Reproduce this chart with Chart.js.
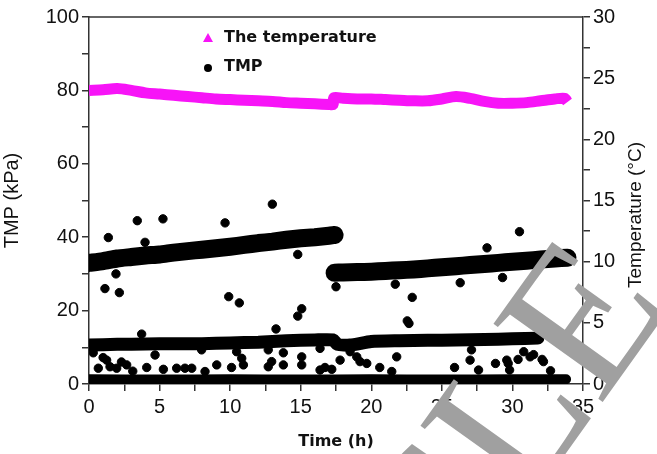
<!DOCTYPE html>
<html lang="en">
<head>
<meta charset="UTF-8">
<title>TMP and temperature</title>
<script src="https://cdn.jsdelivr.net/npm/chart.js"></script>
<style>
    body { margin: 0; background: #fff; }
    #wrap { width: 657px; height: 454px; }
</style>
<script>
    // temperature, right axis (deg C)
    const tempTime = [0, 1, 2, 3, 4, 5, 6, 7, 8, 9, 10, 11, 12, 13, 14, 15, 16, 17, 17.3, 17.35, 18, 19, 20, 21, 22, 23, 24, 25, 26, 27, 28, 29, 30, 31, 32, 33, 33.7, 33.9];
    const tempValue = [24.0, 24.05, 24.15, 24.0, 23.8, 23.7, 23.6, 23.5, 23.4, 23.3, 23.25, 23.2, 23.15, 23.1, 23.0, 22.95, 22.9, 22.85, 22.85, 23.4, 23.35, 23.3, 23.3, 23.25, 23.2, 23.15, 23.15, 23.3, 23.5, 23.35, 23.1, 22.95, 22.95, 23.0, 23.15, 23.3, 23.35, 23.05];

    // dense TMP bands (kPa)
    const upperTimeA = [0, 1, 2, 3, 4, 5, 6, 7, 8, 9, 10, 11, 12, 13, 14, 15, 16, 17, 17.4];
    const upperTmpA = [33.0, 33.5, 34.2, 34.6, 35.0, 35.3, 35.8, 36.2, 36.6, 37.0, 37.4, 37.9, 38.4, 38.8, 39.3, 39.7, 40.0, 40.4, 40.6];
    const upperTimeB = [17.4, 18, 19, 20, 21, 22, 23, 24, 25, 26, 27, 28, 29, 30, 31, 32, 33, 33.9];
    const upperTmpB = [30.3, 30.4, 30.5, 30.6, 30.8, 31.0, 31.2, 31.5, 31.8, 32.1, 32.4, 32.7, 33.0, 33.3, 33.6, 33.9, 34.2, 34.4];
    const midTime = [0, 2, 4, 6, 8, 10, 12, 14, 16, 17.3, 17.6, 18.5, 20, 22, 24, 26, 28, 30, 31.8];
    const midTmp = [10.6, 10.8, 10.9, 11.0, 11.0, 11.2, 11.4, 11.8, 12.0, 12.0, 10.8, 10.6, 11.6, 11.8, 11.9, 12.0, 12.1, 12.3, 12.5];
    const lowTime = [0, 5, 10, 15, 20, 25, 30, 33.8];
    const lowTmp = [1.3, 1.2, 1.3, 1.2, 1.3, 1.2, 1.3, 1.3];

    // scattered TMP points
    const outTime = [1.37, 3.42, 3.97, 5.24, 9.64, 12.99, 14.79, 30.5, 28.2, 1.91, 1.13, 2.15, 9.9, 10.65, 15.07, 14.79, 13.25, 3.73, 29.3, 26.3, 21.7, 22.9, 22.55, 22.67, 17.5];
    const outTmp = [39.9, 44.5, 38.6, 45.0, 43.9, 49.0, 35.3, 41.5, 37.1, 30.0, 26.0, 24.9, 23.8, 22.1, 20.5, 18.5, 15.0, 13.6, 29.0, 27.6, 27.2, 23.6, 17.2, 16.5, 26.5];
    const lowScatterTime = [0.66, 1.25, 1.49, 1.96, 2.67, 4.09, 5.27, 6.21, 6.8, 7.28, 4.68, 8.22, 9.05, 10.1, 10.46, 10.82, 10.94, 7.98, 12.7, 13.77, 12.94, 12.7, 13.77, 15.07, 15.07, 16.37, 16.37, 16.72, 17.2, 17.79, 18.5, 18.97, 19.2, 19.68, 20.6, 21.8, 21.45, 27.1, 27.0, 25.9, 28.8, 29.6, 29.7, 30.4, 30.8, 32.1, 27.6, 29.8, 32.7, 31.25, 32.2, 31.5, 0.3, 1.0, 2.3, 3.1];
    const lowScatterTmp = [4.3, 6.5, 4.7, 4.3, 5.2, 4.5, 4.0, 4.3, 4.3, 4.3, 7.9, 3.4, 5.2, 4.5, 8.8, 7.0, 5.2, 9.3, 9.3, 8.5, 6.1, 4.7, 5.2, 7.4, 5.2, 9.7, 3.8, 4.5, 4.0, 6.5, 8.8, 7.4, 6.1, 5.6, 4.5, 7.4, 3.4, 9.3, 6.5, 4.5, 5.6, 6.5, 5.6, 6.7, 8.8, 6.7, 3.8, 3.8, 3.6, 7.4, 6.1, 8.0, 8.5, 7.2, 6.0, 3.5];

    const legendNames = ['The temperature', 'TMP'];
    const xTitle = 'Time (h)';
    const yTitle = 'TMP (kPa)';
    const y2Title = 'Temperature (\u00B0C)';
    const watermark = 'ARTICLE';

    const MAGENTA = '#f714f7';

    function pairs(xs, ys) {
        return xs.map((x, i) => ({ x: x, y: ys[i] }));
    }

    function band(xs, ys, width) {
        return {
            type: 'line',
            data: pairs(xs, ys),
            yAxisID: 'y',
            borderColor: '#000',
            borderWidth: width,
            borderCapStyle: 'round',
            borderJoinStyle: 'round',
            pointRadius: 0,
            tension: 0.2
        };
    }

    // frame, legend, right-hand title and the watermark
    const extras = {
        id: 'extras',
        afterDraw(chart) {
            const ctx = chart.ctx;
            const a = chart.chartArea;
            ctx.save();
            ctx.strokeStyle = '#333';
            ctx.lineWidth = 1.5;
            ctx.beginPath();
            ctx.moveTo(a.left, a.top);
            ctx.lineTo(a.right, a.top);
            ctx.stroke();

            // legend
            ctx.font = 'bold 16px "DejaVu Sans"';
            ctx.textBaseline = 'middle';
            ctx.fillStyle = MAGENTA;
            ctx.beginPath();
            ctx.moveTo(208, 33);
            ctx.lineTo(213, 42);
            ctx.lineTo(203, 42);
            ctx.closePath();
            ctx.fill();
            ctx.fillStyle = '#000';
            ctx.beginPath();
            ctx.arc(208, 68, 4, 0, Math.PI * 2);
            ctx.fill();
            ctx.fillStyle = '#111';
            ctx.fillText(legendNames[0], 224, 38);
            ctx.fillText(legendNames[1], 224, 67);

            // right axis title reads bottom to top
            ctx.translate(636, 215);
            ctx.rotate(-Math.PI / 2);
            ctx.font = '19px "Liberation Sans"';
            ctx.textAlign = 'center';
            ctx.fillText(y2Title, 0, 0);
            ctx.restore();

            ctx.save();
            ctx.translate(672, 305);
            ctx.rotate(-0.95);
            ctx.font = '205px "Liberation Serif"';
            ctx.textAlign = 'right';
            ctx.textBaseline = 'alphabetic';
            ctx.fillStyle = '#a0a0a0';
            ctx.fillText(watermark, 0, 0);
            ctx.restore();
        }
    };

    function draw() {
        const tickFont = { family: 'Liberation Sans', size: 20 };
        const ctx = document.getElementById('chart').getContext('2d');
        new Chart(ctx, {
            type: 'scatter',
            data: {
                datasets: [
                    {
                        type: 'line',
                        label: legendNames[0],
                        data: pairs(tempTime, tempValue),
                        yAxisID: 'y2',
                        borderColor: MAGENTA,
                        borderWidth: 11,
                        borderJoinStyle: 'round',
                        pointRadius: 0,
                        tension: 0.3
                    },
                    band(upperTimeA, upperTmpA, 18),
                    band(upperTimeB, upperTmpB, 18),
                    band(midTime, midTmp, 13),
                    band(lowTime, lowTmp, 10),
                    {
                        label: legendNames[1],
                        data: pairs(outTime.concat(lowScatterTime), outTmp.concat(lowScatterTmp)),
                        yAxisID: 'y',
                        backgroundColor: '#000',
                        borderColor: '#000',
                        pointRadius: 4.2,
                        pointHoverRadius: 4.2
                    }
                ]
            },
            options: {
                responsive: false,
                animation: false,
                layout: { padding: { top: 17, left: 0, right: 0, bottom: 0 } },
                plugins: { legend: { display: false }, tooltip: { enabled: false } },
                scales: {
                    x: {
                        type: 'linear',
                        min: 0,
                        max: 35,
                        afterFit(s) { s.height = 70; },
                        ticks: {
                            stepSize: 2.5,
                            color: '#111',
                            font: tickFont,
                            padding: 4,
                            maxRotation: 0,
                            autoSkip: false,
                            callback: v => (v % 5 === 0 ? v : '')
                        },
                        grid: { drawOnChartArea: false, tickLength: 7, color: '#333', lineWidth: 1.5 },
                        border: { color: '#333', width: 1.5 },
                        title: {
                            display: true,
                            text: xTitle,
                            color: '#111',
                            font: { family: 'DejaVu Sans', size: 16, weight: 'bold' },
                            padding: { top: 0, bottom: 3 }
                        }
                    },
                    y: {
                        position: 'left',
                        min: 0,
                        max: 100,
                        afterFit(s) { s.width = 89; },
                        ticks: {
                            stepSize: 10,
                            color: '#111',
                            font: tickFont,
                            padding: 3,
                            callback: v => (v % 20 === 0 ? v : '')
                        },
                        grid: { drawOnChartArea: false, tickLength: 7, color: '#333', lineWidth: 1.5 },
                        border: { color: '#333', width: 1.5 },
                        title: {
                            display: true,
                            text: yTitle,
                            color: '#111',
                            font: { family: 'Liberation Sans', size: 20 },
                            padding: { top: 0, bottom: 10 }
                        }
                    },
                    y2: {
                        position: 'right',
                        min: 0,
                        max: 30,
                        afterFit(s) { s.width = 74; },
                        ticks: {
                            stepSize: 2.5,
                            color: '#111',
                            font: tickFont,
                            padding: 3,
                            callback: v => (v % 5 === 0 ? v : '')
                        },
                        grid: { drawOnChartArea: false, tickLength: 7, color: '#333', lineWidth: 1.5 },
                        border: { color: '#333', width: 1.5 }
                    }
                }
            },
            plugins: [extras]
        });
    }

    document.addEventListener('DOMContentLoaded', draw);
</script>
</head>
<body>
<div id="wrap"><canvas id="chart" width="657" height="454"></canvas></div>
</body>
</html>
